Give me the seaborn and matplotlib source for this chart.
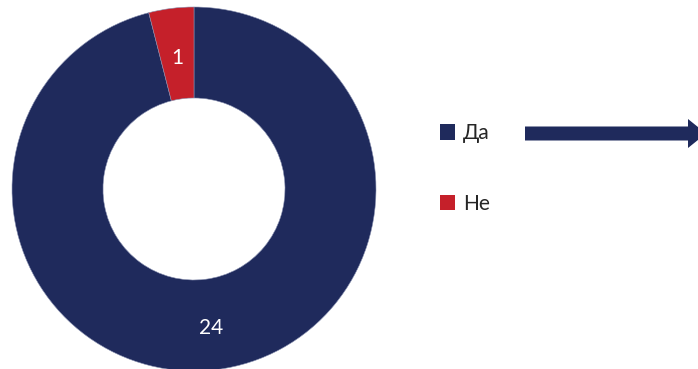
import matplotlib
matplotlib.use("Agg")
import matplotlib.pyplot as plt
from matplotlib.patches import Patch, FancyArrow
import seaborn as sns

# Answers and counts
categories = ["Да", "Не"]
counts = [24, 1]
colors = ["#1F2A5C", "#C5202A"]

sns.set_theme(style="white")
plt.rcParams["font.family"] = ["Lato", "DejaVu Sans"]

W, H = 698, 369
fig = plt.figure(figsize=(W / 100, H / 100), dpi=100)

# Donut placement in pixels: center and outer radius
cx, cy, r = 194, 189, 182
ax = fig.add_axes([(cx - r) / W, (H - cy - r) / H, 2 * r / W, 2 * r / H])

wedges, _, autotexts = ax.pie(
    counts,
    colors=colors,
    startangle=90,
    counterclock=False,
    radius=1.0,
    wedgeprops=dict(width=0.5, edgecolor="#8890B0", linewidth=0.4),
    autopct=lambda p: f"{round(p * sum(counts) / 100)}",
    pctdistance=0.75,
    textprops=dict(color="white", fontsize=15),
)
# nudge value labels slightly down
for t in autotexts:
    x, y = t.get_position()
    t.set_position((x, y - 4 / r))

ax.set_xlim(-1, 1)
ax.set_ylim(-1, 1)
ax.set_aspect("equal")
ax.axis("off")

# Legend
handles = [Patch(facecolor=c, edgecolor="none") for c in colors]
fig.legend(
    handles, categories,
    loc="center left",
    bbox_to_anchor=(421 / W, 1 - 168.5 / H),
    frameon=False,
    fontsize=15,
    handlelength=0.75,
    handleheight=0.75,
    handletextpad=0.35,
    labelspacing=2.42,
)

# Arrow pointing right
arrow = FancyArrow(
    525 / W, 1 - 133.5 / H, (706 - 525) / W, 0,
    width=14 / H, head_width=29 / H, head_length=18 / W,
    length_includes_head=True, transform=fig.transFigure,
    facecolor="#1F2A5C", edgecolor="none",
)
fig.patches.append(arrow)

fig.savefig("out.png", dpi=100)
